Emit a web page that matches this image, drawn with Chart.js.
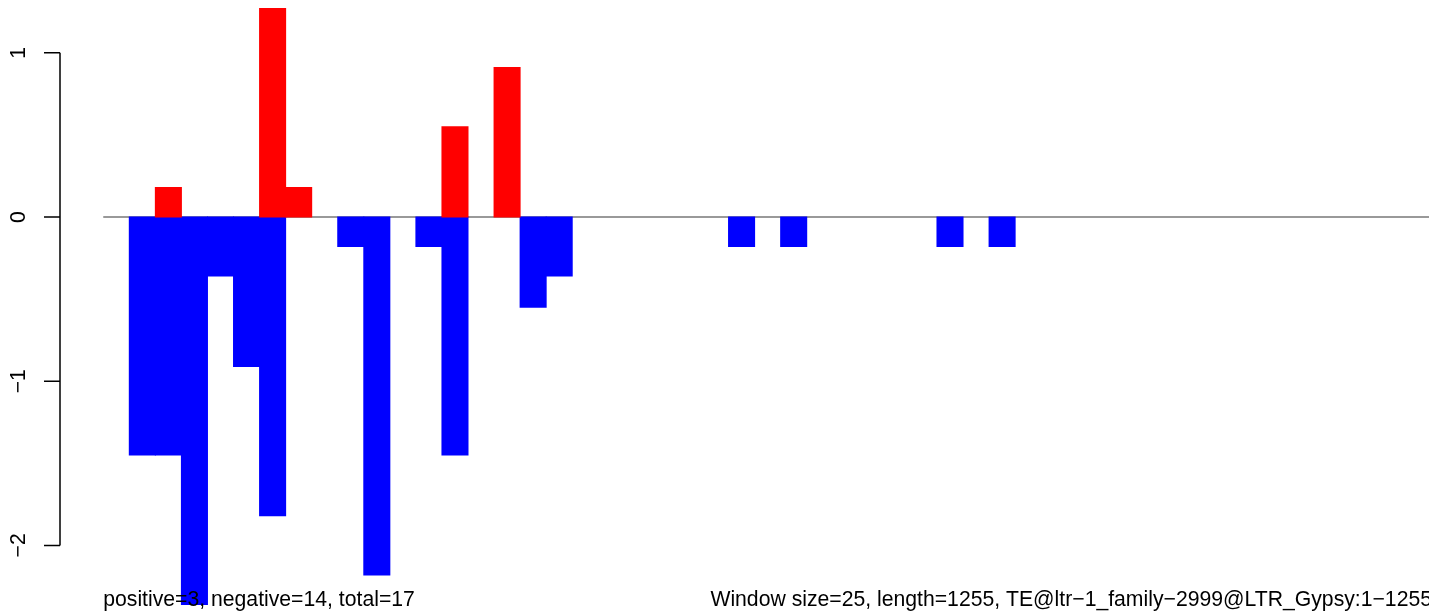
<!DOCTYPE html>
<html>
<head>
<meta charset="utf-8">
<script src="https://cdn.jsdelivr.net/npm/chart.js@4/dist/chart.umd.min.js"></script>
<style>
  html, body { margin: 0; padding: 0; background: #fff; overflow: hidden; }
  #wrap { width: 1432px; height: 613px; }
</style>
</head>
<body>
<div id="wrap"><canvas id="barchart" width="1432" height="613"></canvas></div>
<script>
// windows along the element (51 windows of 25 bp), empty windows are null
var windows = [1, 2, 3, 4, 5, 6, 7, 8, 9, 10, 11, 12, 13, 14, 15, 16, 17, 18, 19, 20,
               21, 22, 23, 24, 25, 26, 27, 28, 29, 30, 31, 32, 33, 34, 35, 36, 37, 38, 39, 40,
               41, 42, 43, 44, 45, 46, 47, 48, 49, 50, 51];
var positiveValues = [null, null, 0.18, null, null, null, 1.27, 0.18, null, null,
                      null, null, null, 0.55, null, 0.91, null, null, null, null,
                      null, null, null, null, null, null, null, null, null, null,
                      null, null, null, null, null, null, null, null, null, null,
                      null, null, null, null, null, null, null, null, null, null, null];
var negativeValues = [null, -1.45, -1.45, -2.36, -0.36, -0.91, -1.82, null, null, -0.18,
                      -2.18, null, -0.18, -1.45, null, null, -0.55, -0.36, null, null,
                      null, null, null, null, -0.18, null, -0.18, null, null, null,
                      null, null, -0.18, null, -0.18, null, null, null, null, null,
                      null, null, null, null, null, null, null, null, null, null, null];
var yTicks = [-2, -1, 0, 1];
var yTickLabels = ["\u22122", "\u22121", "0", "1"];
var leftNote = "positive=3, negative=14, total=17";
var rightNote = "Window size=25, length=1255, TE@ltr\u22121_family\u22122999@LTR_Gypsy:1\u22121255";

var FONT = '21.2px "Liberation Sans", Arial, sans-serif';

// R style axis, zero line and margin texts
var rStyle = {
    id: 'rStyle',
    beforeDatasetsDraw: function (chart) {
        var ctx = chart.ctx, y = chart.scales.y, area = chart.chartArea;
        var y0 = y.getPixelForValue(0);
        ctx.save();
        ctx.strokeStyle = '#777777';
        ctx.lineWidth = 1.5;
        ctx.beginPath();
        ctx.moveTo(area.left, y0);
        ctx.lineTo(area.right, y0);
        ctx.stroke();
        ctx.restore();
    },
    afterDatasetsDraw: function (chart) {
        var ctx = chart.ctx, y = chart.scales.y, area = chart.chartArea;
        var axisX = 60, tickLen = 16;
        ctx.save();
        ctx.strokeStyle = '#000';
        ctx.lineWidth = 1.5;
        ctx.beginPath();
        ctx.moveTo(axisX, y.getPixelForValue(yTicks[0]));
        ctx.lineTo(axisX, y.getPixelForValue(yTicks[yTicks.length - 1]));
        yTicks.forEach(function (t) {
            var py = y.getPixelForValue(t);
            ctx.moveTo(axisX, py);
            ctx.lineTo(axisX - tickLen, py);
        });
        ctx.stroke();

        ctx.fillStyle = '#000';
        ctx.font = FONT;
        yTicks.forEach(function (t, i) {
            ctx.save();
            ctx.translate(25, y.getPixelForValue(t));
            ctx.rotate(-Math.PI / 2);
            ctx.textAlign = 'center';
            ctx.textBaseline = 'alphabetic';
            ctx.fillText(yTickLabels[i], 0, 0);
            ctx.restore();
        });

        ctx.textBaseline = 'alphabetic';
        ctx.textAlign = 'left';
        ctx.fillText(leftNote, area.left, 606);
        ctx.textAlign = 'right';
        ctx.fillText(rightNote, area.right, 606);
        ctx.restore();
    }
};

var ctx = document.getElementById("barchart").getContext('2d');
var chart = new Chart(ctx, {
    type: 'bar',
    data: {
        labels: windows,
        datasets: [{
            label: 'positive',
            data: positiveValues,
            backgroundColor: '#FF0000',
            borderWidth: 0,
            inflateAmount: 0.5,
            grouped: false,
            barPercentage: 1,
            categoryPercentage: 1
        }, {
            label: 'negative',
            data: negativeValues,
            backgroundColor: '#0000FF',
            borderWidth: 0,
            inflateAmount: 0.5,
            grouped: false,
            barPercentage: 1,
            categoryPercentage: 1
        }]
    },
    options: {
        responsive: false,
        animation: false,
        layout: { padding: { left: 103.25, right: 0, top: 0, bottom: 0 } },
        plugins: {
            legend: { display: false },
            tooltip: { enabled: false }
        },
        scales: {
            x: { display: false },
            y: { display: false, min: -2.4117, max: 1.3216 }
        }
    },
    plugins: [rStyle]
});
</script>
</body>
</html>
